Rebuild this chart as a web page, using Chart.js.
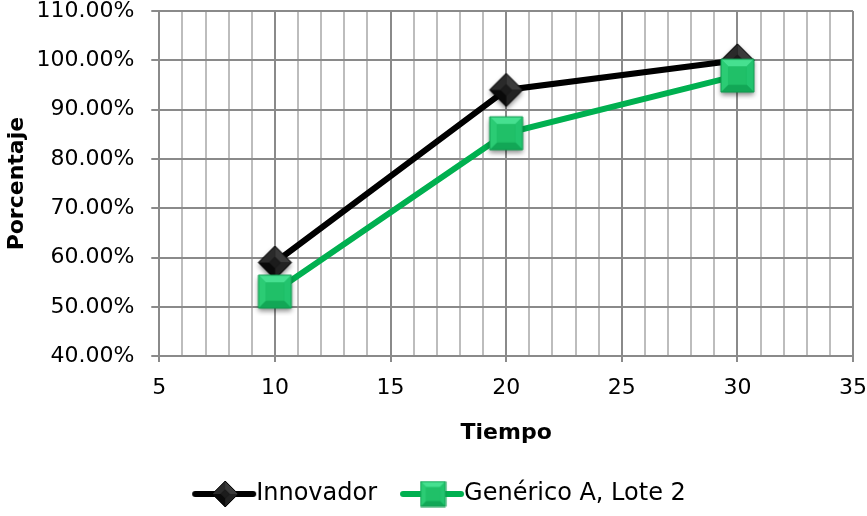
<!DOCTYPE html>
<html>
<head>
<meta charset="utf-8">
<script src="https://cdn.jsdelivr.net/npm/chart.js@4/dist/chart.umd.min.js"></script>
<style>
  html, body { margin: 0; padding: 0; background: #fff; }
  #wrap { width: 867px; height: 516px; }
</style>
</head>
<body>
<div id="wrap"><canvas id="chart"></canvas></div>
<script>
// Disolución: porcentaje vs tiempo
const tiempo = [10, 20, 30];
const innovador = [59.0, 94.0, 100.0];
const genericoA = [53.1, 85.2, 96.9];
const serieNombres = ['Innovador', 'Genérico A, Lote 2'];

const NEGRO = '#000000';
const VERDE = '#00b050';
const TITLE_FONT = { family: 'DejaVu Sans', size: 22, weight: 'bold' };

// beveled marker with a soft drop shadow, drawn into its own canvas
function marker(kind, size, shadow) {
  const pad = shadow ? 8 : 1;
  const c = document.createElement('canvas');
  c.width = c.height = size + pad * 2;
  const g = c.getContext('2d');
  const m = c.width / 2, h = size / 2;
  let pts;
  if (kind === 'diamond') {
    pts = [[m, m - h], [m + h, m], [m, m + h], [m - h, m]];
  } else {
    pts = [[m - h, m - h], [m + h, m - h], [m + h, m + h], [m - h, m + h]];
  }
  const outline = () => {
    g.beginPath();
    pts.forEach((p, i) => i ? g.lineTo(p[0], p[1]) : g.moveTo(p[0], p[1]));
    g.closePath();
  };
  g.save();
  if (shadow) {
    g.shadowColor = 'rgba(0,0,0,0.45)';
    g.shadowBlur = 5;
    g.shadowOffsetY = 3;
  }
  g.fillStyle = kind === 'diamond' ? '#111' : '#18b862';
  outline(); g.fill();
  g.restore();
  // facets
  const shades = kind === 'diamond'
    ? ['#3a3a3a', '#222', '#0a0a0a', '#2a2a2a']
    : ['#46e090', '#22c46e', '#12a756', '#2bcc74'];
  const inset = kind === 'diamond' ? 0.35 : 0.55;
  for (let i = 0; i < 4; i++) {
    const a = pts[i], b = pts[(i + 1) % 4];
    g.beginPath();
    g.moveTo(a[0], a[1]); g.lineTo(b[0], b[1]);
    g.lineTo(m + (b[0] - m) * inset, m + (b[1] - m) * inset);
    g.lineTo(m + (a[0] - m) * inset, m + (a[1] - m) * inset);
    g.closePath();
    g.fillStyle = shades[i];
    g.fill();
  }
  g.fillStyle = kind === 'diamond' ? '#1c1c1c' : '#20c068';
  g.beginPath();
  pts.forEach((p, i) => {
    const x = m + (p[0] - m) * inset, y = m + (p[1] - m) * inset;
    i ? g.lineTo(x, y) : g.moveTo(x, y);
  });
  g.closePath(); g.fill();
  g.lineWidth = 1;
  g.strokeStyle = kind === 'diamond' ? '#000' : '#0f9a4e';
  outline(); g.stroke();
  return c;
}

// legend symbol: blank lead-in, then a line segment with the marker in the middle
function legendSymbol(kind) {
  const c = document.createElement('canvas');
  c.width = 120; c.height = 30;
  const g = c.getContext('2d');
  g.lineCap = 'round';
  g.lineWidth = 6;
  g.strokeStyle = kind === 'diamond' ? NEGRO : VERDE;
  g.beginPath(); g.moveTo(47, 15); g.lineTo(105, 15); g.stroke();
  const mk = marker(kind, kind === 'diamond' ? 26 : 25, false);
  g.drawImage(mk, 77 - mk.width / 2, 15 - mk.height / 2);
  return c;
}

const symbols = [legendSymbol('diamond'), legendSymbol('square')];

const ctx = document.getElementById('chart').getContext('2d');
new Chart(ctx, {
  type: 'line',
  data: {
    datasets: [
      {
        label: serieNombres[0],
        data: tiempo.map((t, i) => ({ x: t, y: innovador[i] })),
        borderColor: NEGRO,
        borderWidth: 6,
        pointStyle: marker('diamond', 33, true),
        pointRadius: 16,
        pointHoverRadius: 16,
        order: 1
      },
      {
        label: serieNombres[1],
        data: tiempo.map((t, i) => ({ x: t, y: genericoA[i] })),
        borderColor: VERDE,
        borderWidth: 6,
        pointStyle: marker('square', 33, true),
        pointRadius: 16,
        pointHoverRadius: 16,
        order: 0
      }
    ]
  },
  options: {
    responsive: true,
    maintainAspectRatio: false,
    animation: false,
    layout: { autoPadding: false, padding: { left: 1, right: 10, top: 10, bottom: 0 } },
    plugins: {
      tooltip: { enabled: false },
      legend: {
        position: 'bottom',
        labels: {
          usePointStyle: true,
          pointStyleWidth: 72,
          padding: 3,
          color: '#000',
          font: { family: 'DejaVu Sans', size: 24 },
          generateLabels: () => serieNombres.map((name, i) => ({
            text: name,
            pointStyle: symbols[i],
            datasetIndex: i,
            fillStyle: 'transparent',
            strokeStyle: 'transparent',
            lineWidth: 0,
            fontColor: '#000'
          }))
        }
      }
    },
    scales: {
      x: {
        type: 'linear',
        min: 5,
        max: 35,
        border: { display: false },
        grid: {
          color: (c) => c.tick && c.tick.value % 5 === 0 ? '#8a8a8a' : '#bdbdbd',
          lineWidth: 2,
          // short tick mark under the axis, then blank space before the label
          tickLength: 19,
          tickBorderDash: [6, 40],
          tickColor: (c) => c.tick && c.tick.value % 5 === 0 ? '#8a8a8a' : 'rgba(0,0,0,0)'
        },
        ticks: {
          stepSize: 1,
          autoSkip: false,
          maxRotation: 0,
          padding: 0,
          color: '#000',
          font: { family: 'DejaVu Sans', size: 22 },
          callback: (v) => v % 5 === 0 ? String(v) : ''
        },
        title: {
          display: true,
          text: 'Tiempo',
          color: '#000',
          font: TITLE_FONT,
          padding: { top: 18, bottom: 33 }
        }
      },
      y: {
        min: 40,
        max: 110,
        border: { display: false },
        grid: {
          color: '#8a8a8a',
          lineWidth: 2,
          // blank gap next to the label, then the short tick mark at the axis
          tickLength: 25,
          tickBorderDash: [8, 17],
          tickBorderDashOffset: 8,
          tickColor: '#8a8a8a'
        },
        ticks: {
          stepSize: 10,
          padding: 0,
          color: '#000',
          font: { family: 'DejaVu Sans', size: 22, lineHeight: 1 },
          callback: (v) => v.toFixed(2) + '%'
        },
        title: {
          display: true,
          text: 'Porcentaje',
          color: '#000',
          font: TITLE_FONT,
          padding: { top: 3, bottom: 6 }
        }
      }
    }
  }
});
</script>
</body>
</html>
